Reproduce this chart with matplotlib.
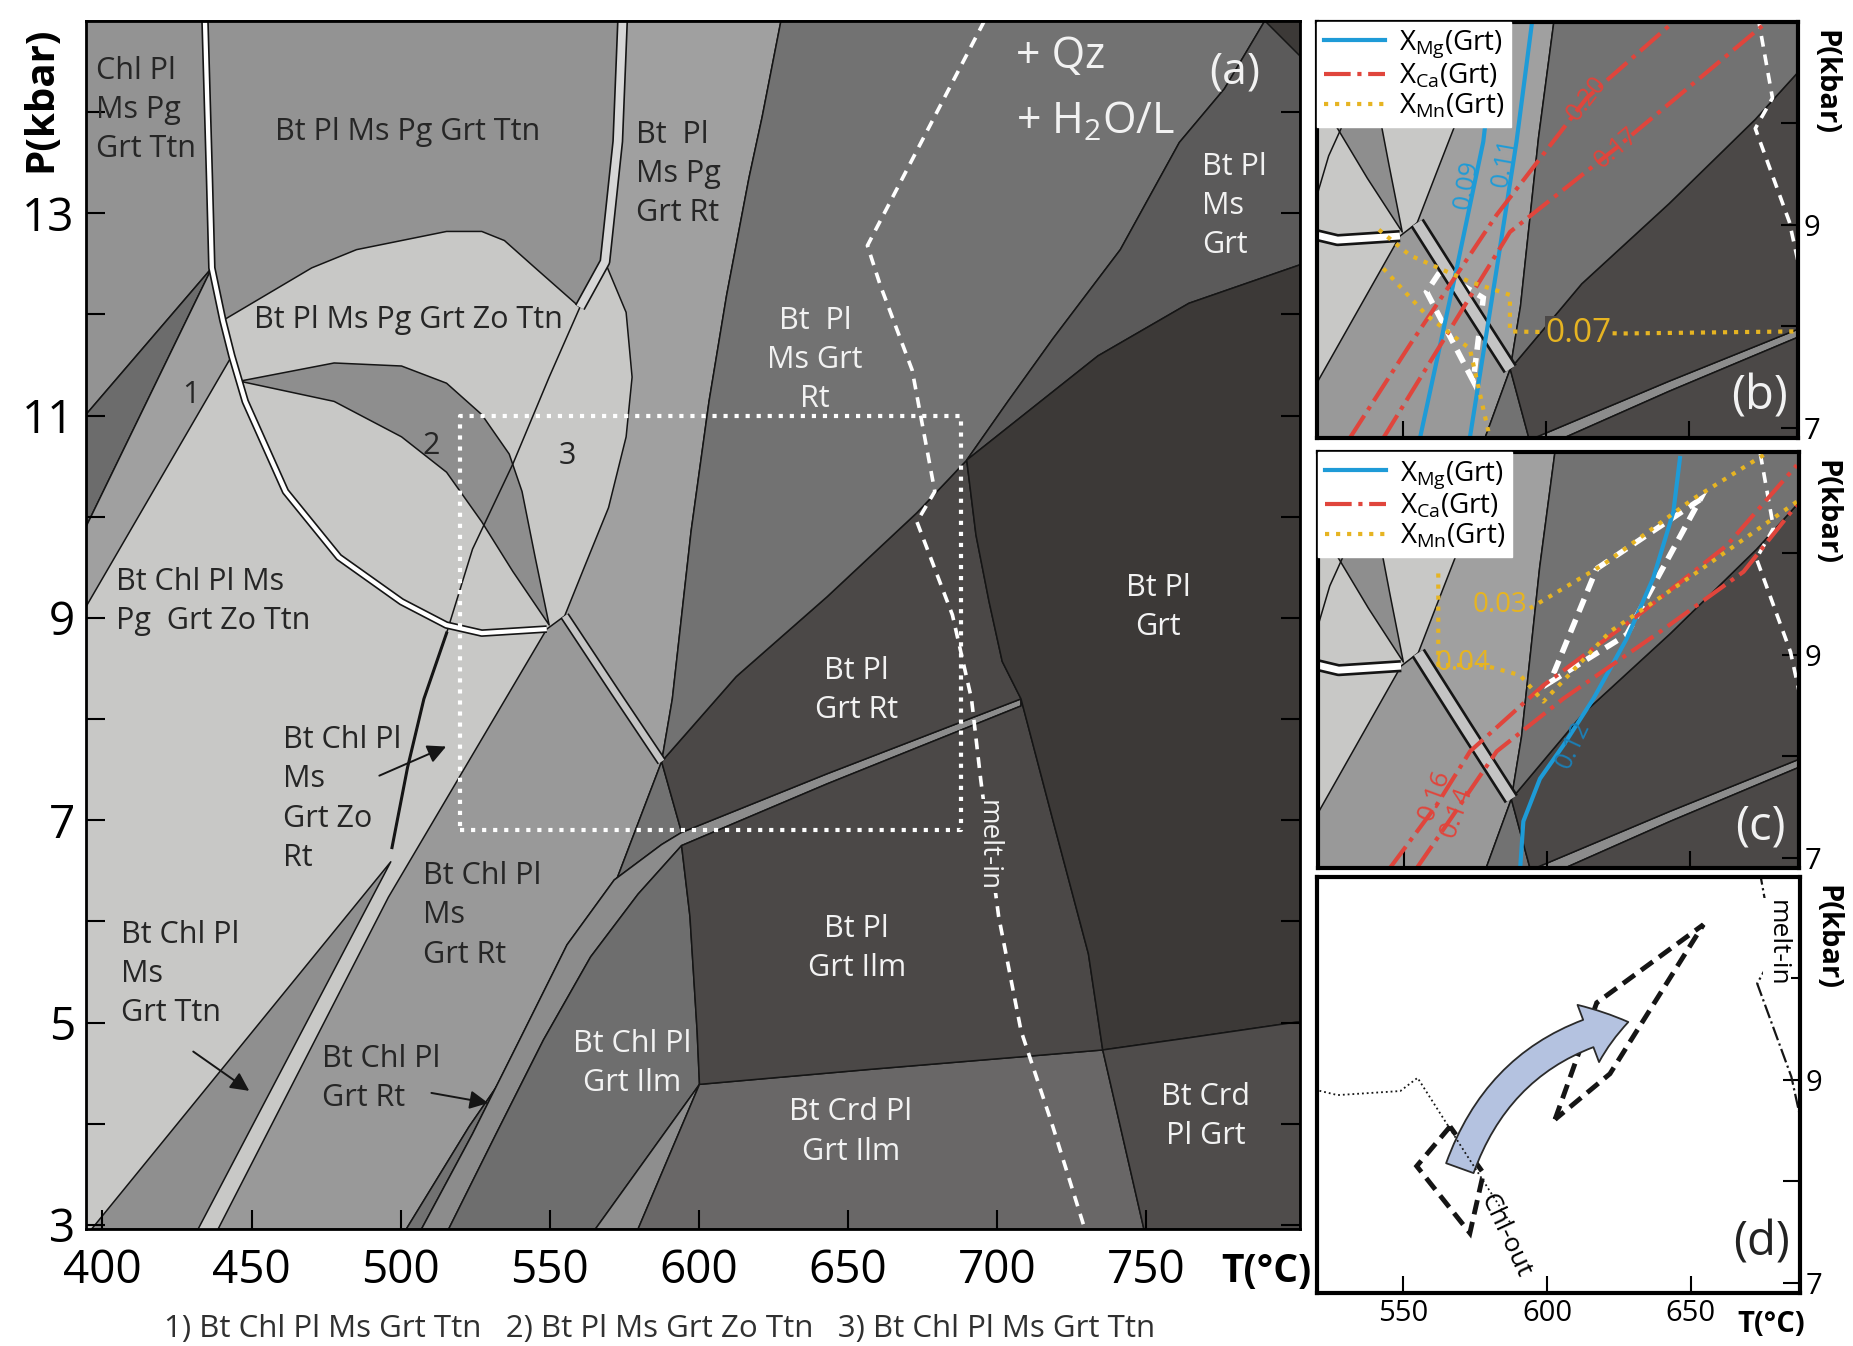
import matplotlib.pyplot as plt
from matplotlib.patches import Polygon, FancyArrowPatch
from matplotlib.lines import Line2D

plt.rcParams['font.family'] = ['Open Sans', 'DejaVu Sans']
plt.rcParams['mathtext.fontset'] = 'custom'
plt.rcParams['mathtext.rm'] = 'Open Sans'
plt.rcParams['mathtext.it'] = 'Open Sans:italic'
plt.rcParams['mathtext.bf'] = 'Open Sans:bold'

# P-T window of the section and of the enlarged window (b-d)
T_LIM = (394.5, 801.5)
P_LIM = (2.96, 14.9)
ZOOM_T = (520, 688)
ZOOM_P = (6.9, 11.0)

# field boundaries, (T degC, P kbar)
WHITE1 = [(434.4, 14.9), (435.9, 13.35), (436.7, 12.46), (440.4, 11.94), (443.4, 11.59),
          (447.9, 11.14), (461.4, 10.25), (479.3, 9.60), (500.3, 9.16), (515.3, 8.93),
          (527.2, 8.85), (549.0, 8.89)]
WHITE2 = [(574.4, 14.9), (572.8, 13.71), (568.5, 12.52), (560.1, 12.07)]
LENS_TOP = [(440.4, 11.94), (470.2, 12.46), (485.2, 12.64), (515.4, 12.82), (527.2, 12.82),
            (534.8, 12.73), (545.1, 12.46), (560.1, 12.07)]
F2_UPPER = [(446.0, 11.34), (477.7, 11.52), (500.3, 11.49), (515.4, 11.32), (527.2, 11.01),
            (536.4, 10.62), (540.7, 10.25), (545.1, 9.60), (549.8, 8.93)]
F2_LOWER = [(446.0, 11.34), (477.7, 11.14), (500.3, 10.79), (515.4, 10.44), (527.2, 9.95),
            (537.6, 9.46), (549.8, 8.93)]
REGION3_EDGE = [(568.5, 12.52), (575.6, 12.02), (577.6, 11.38), (575.6, 10.79), (569.7, 10.09),
                (561.7, 9.51), (555.0, 9.02)]
LINE_D = [(560.1, 12.07), (549.8, 11.38), (537.6, 10.52), (524.1, 9.68), (515.4, 8.85),
          (507.8, 8.20), (502.3, 7.52), (497.1, 6.73)]
CHL_OUT_BAND = [(555.0, 9.02), (571.6, 8.28), (587.5, 7.58)]
L1 = [(396.4, 2.96), (496.7, 6.59)]
L2 = [(432.1, 2.96), (496.7, 6.59)]
L34 = [(438.8, 2.96), (495.9, 6.24), (549.0, 8.89)]
R2 = [(627.5, 14.9), (621.2, 13.95), (616.8, 13.35), (609.3, 12.19), (603.4, 11.14),
      (597.4, 9.86), (591.1, 8.20), (587.5, 7.58)]
LINE_AA = [(587.5, 7.58), (567.7, 6.05), (545.1, 4.92), (522.9, 3.97), (501.9, 2.96)]
RT_TOP = [(507.0, 2.96), (524.1, 3.90), (539.9, 4.83), (555.8, 5.77), (571.6, 6.41),
          (587.5, 6.76), (594.2, 6.88), (643.0, 7.46), (708.0, 8.20)]
RT_BOT = [(516.1, 2.96), (532.0, 3.90), (547.9, 4.83), (563.7, 5.65), (579.6, 6.27),
          (594.2, 6.75), (643.0, 7.36), (708.0, 8.13)]
R6 = [(587.5, 7.58), (594.2, 6.82), (597.0, 6.05), (599.4, 4.92), (600.2, 4.39)]
CRD_TOP = [(600.2, 4.39), (658.1, 4.54), (711.2, 4.67), (735.4, 4.73), (764.3, 4.85), (801.5, 5.01)]
R5 = [(689.8, 10.56), (692.9, 9.82), (697.3, 9.16), (701.7, 8.57), (708.0, 8.20), (718.7, 7.00),
      (730.6, 5.68), (735.4, 4.73), (749.2, 2.96)]
J1_LINE = [(587.5, 7.58), (612.5, 8.42), (643.0, 9.21), (673.1, 10.04), (689.8, 10.56)]
R3 = [(689.8, 10.56), (703.6, 11.14), (718.7, 11.76), (741.3, 12.64), (761.1, 13.70),
      (776.2, 14.23), (789.7, 14.9)]
R4 = [(689.8, 10.56), (733.8, 11.59), (764.3, 12.11), (801.5, 12.49)]
MELT_IN = [(695.7, 14.9), (656.5, 12.68), (660.8, 12.29), (671.5, 11.45), (679.1, 10.25),
           (673.1, 9.95), (685.0, 9.03), (691.4, 8.20), (694.5, 7.40), (700.5, 6.05),
           (708.0, 4.92), (718.7, 3.97), (729.4, 2.96)]

# field polygons built from the boundaries, with their grey shades
LIGHT = '#c8c8c6'
FIELDS = [
    ([(394.5, 14.9)] + WHITE1[:3] + [(394.5, 11.01)], '#939393'),
    ([(394.5, 11.01), (436.7, 12.46), (394.5, 9.9)], '#6c6c6c'),
    ([(394.5, 9.9)] + WHITE1[2:5] + [(394.5, 9.11)], '#a0a0a0'),
    (WHITE2 + LENS_TOP[::-1] + WHITE1[2::-1], '#939393'),
    (F2_UPPER + F2_LOWER[::-1], '#8e8e8e'),
    (WHITE2[:3] + REGION3_EDGE[1:] + CHL_OUT_BAND[1:] + R2[::-1][1:], '#a0a0a0'),
    ([(549.0, 8.89)] + CHL_OUT_BAND + LINE_AA[1:] + [(438.8, 2.96), L34[1]], '#999999'),
    ([L1[0], L1[1], L2[0]], '#8f8f8f'),
    (LINE_AA + RT_TOP[:7], '#727272'),
    (RT_TOP + RT_BOT[::-1], '#8c8c8c'),
    (RT_BOT[:6] + R6[2:] + [(565.3, 2.96)], '#6e6e6e'),
    ([(600.2, 4.39), (565.3, 2.96), (579.6, 2.96)], '#8e8e8e'),
    (CRD_TOP[:4] + [(749.2, 2.96), (579.6, 2.96)], '#696767'),
    (RT_BOT[5:] + R5[4:8] + CRD_TOP[:4][::-1] + R6[2:4][::-1], '#4b4847'),
    (J1_LINE + R5[1:5] + RT_TOP[6:8][::-1], '#4b4847'),
    (R2 + J1_LINE[1:] + R3[1:], '#727272'),
    (R3 + [(801.5, 14.9)] + R4[::-1], '#5b5a5a'),
    (R4 + [(801.5, 5.01)] + CRD_TOP[3:5][::-1] + R5[:8][::-1], '#3c3937'),
    (CRD_TOP[3:] + [(801.5, 2.96), (749.2, 2.96)], '#4f4c4b'),
    ([(789.7, 14.9), (801.5, 14.9), (801.5, 14.55)], '#3c3937'),
]

# field names (text, T, P, colour, alignment)
DARK, WHITE = '#262626', '#f2f2f2'
LABELS = [
    ('Chl Pl\nMs Pg\nGrt Ttn', 398.0, 14.02, DARK, 'left'),
    ('Bt Pl Ms Pg Grt Ttn', 502.3, 13.8, DARK, 'center'),
    ('Bt  Pl\nMs Pg\nGrt Rt', 578.8, 13.39, DARK, 'left'),
    ('Bt Pl Ms Pg Grt Zo Ttn', 502.7, 11.94, DARK, 'center'),
    ('1', 429.7, 11.2, DARK, 'center'),
    ('2', 510.2, 10.7, DARK, 'center'),
    ('3', 555.8, 10.6, DARK, 'center'),
    ('Bt Chl Pl Ms\nPg  Grt Zo Ttn', 404.4, 9.16, DARK, 'left'),
    ('Bt Chl Pl\nMs\nGrt Zo\nRt', 460.6, 7.21, DARK, 'left'),
    ('Bt Chl Pl\nMs\nGrt Ttn', 406.3, 5.48, DARK, 'left'),
    ('Bt Chl Pl\nMs\nGrt Rt', 507.4, 6.06, DARK, 'left'),
    ('Bt Chl Pl\nGrt Rt', 473.7, 4.45, DARK, 'left'),
    ('Bt  Pl\nMs Grt\nRt', 639.0, 11.55, WHITE, 'center'),
    ('Bt Pl\nMs\nGrt', 768.7, 13.07, WHITE, 'left'),
    ('Bt Pl\nGrt', 754.0, 9.1, WHITE, 'center'),
    ('Bt Pl\nGrt Rt', 652.9, 8.28, WHITE, 'center'),
    ('Bt Pl\nGrt Ilm', 652.9, 5.73, WHITE, 'center'),
    ('Bt Chl Pl\nGrt Ilm', 577.6, 4.6, WHITE, 'center'),
    ('Bt Crd Pl\nGrt Ilm', 650.9, 3.92, WHITE, 'center'),
    ('Bt Crd\nPl Grt', 769.8, 4.07, WHITE, 'center'),
]
POINTERS = [((492.0, 7.43), (516.1, 7.74)), ((429.7, 4.73), (450.0, 4.31)),
            ((509.4, 4.31), (530.3, 4.20))]

# garnet isopleths, window (b)
MG_B = {'0.09': [(582.8, 10.97), (578.1, 9.82), (568.8, 8.57), (556.0, 6.90)],
        '0.11': [(595.0, 10.97), (589.7, 9.82), (582.8, 8.57), (573.4, 6.90)]}
CA_B = {'0.20': [(531.5, 6.90), (552.5, 7.82), (582.8, 9.10), (614.2, 10.25), (643.3, 10.97)],
        '0.17': [(543.2, 6.90), (587.4, 8.93), (624.6, 9.76), (675.9, 10.97)]}
MN_B = {'0.07': [(686.4, 7.95), (627.0, 7.93), (587.4, 7.95), (587.4, 8.31), (573.4, 8.44),
                 (552.5, 8.70), (540.9, 8.97)],
        '': [(543.2, 8.57), (558.3, 8.11), (573.4, 7.78), (580.4, 6.90)]}
PT_B = [(563.0, 8.54), (578.1, 8.28), (574.6, 7.46), (558.3, 8.34)]

# garnet isopleths, window (c)
MG_C = {'0.12': [(590.6, 6.90), (591.7, 7.36), (597.5, 7.78), (605.7, 8.11), (616.2, 8.57),
                 (627.8, 9.16), (637.1, 9.76), (644.1, 10.41), (646.4, 10.94)]}
CA_C = {'0.16': [(545.1, 6.90), (561.4, 7.52), (573.1, 8.05), (598.7, 8.70), (633.6, 9.43),
                 (662.8, 10.08), (687.2, 10.87)],
        '0.14': [(554.5, 6.90), (569.6, 7.52), (582.4, 8.05), (605.7, 8.57), (639.5, 9.23),
                 (668.6, 9.82), (687.2, 10.48)]}
MN_C = {'0.03': [(675.6, 10.97), (651.1, 10.54), (619.6, 9.89), (594.0, 9.46)],
        '0.04': [(687.2, 10.51), (651.1, 9.79), (622.0, 9.23), (598.7, 8.54), (590.6, 8.80),
                 (577.7, 8.90), (562.0, 8.90), (562.0, 9.82)]}
PT_C = [(617.3, 9.85), (653.4, 10.53), (627.8, 9.20), (601.0, 8.73)]

# P-T path, window (d)
BOX_EARLY = [(566.3, 8.54), (554.7, 8.15), (573.2, 7.49), (577.9, 8.08)]
BOX_PEAK = [(602.8, 8.61), (617.3, 9.76), (654.4, 10.53), (621.9, 9.06)]
PATH_T = [569.7, 628.3]
PATH_P = [8.13, 9.57]

C_MG, C_CA, C_MN = '#1e9bd7', '#e0453c', '#e6b422'
EDGE = '#151515'


def xy(pts):
    return [p[0] for p in pts], [p[1] for p in pts]


def draw_section(a, s=1.0):
    a.set_facecolor(LIGHT)
    for pts, col in FIELDS:
        a.add_patch(Polygon(pts, closed=True, fc=col, ec=EDGE, lw=1.1, joinstyle='round'))
    a.plot(*xy(LINE_D), color=EDGE, lw=1.1)
    a.plot(*xy(LINE_D[4:]), color=EDGE, lw=2.2)
    for pts, inner, w in ((WHITE1, 'white', 5.5), (WHITE2, '#d6d6d6', 8.0),
                          (CHL_OUT_BAND, '#c4c4c4', 7.0)):
        a.plot(*xy(pts), color=EDGE, lw=w * s, solid_capstyle='butt', solid_joinstyle='round')
        a.plot(*xy(pts), color=inner, lw=(w - 2.4) * s, solid_capstyle='butt',
               solid_joinstyle='round')
    a.plot(*xy(MELT_IN), color='white', lw=2.6, ls=(0, (3, 2.2)))


def window_axes(a, labels_x=False):
    a.set_xlim(*ZOOM_T)
    a.set_ylim(*ZOOM_P)
    a.yaxis.tick_right()
    a.set_yticks([7, 9])
    a.set_yticks([8, 10], minor=True)
    a.set_xticks([550, 600, 650])
    a.tick_params(which='both', direction='in', length=12, width=1.5, labelsize=21,
                  top=False, left=False, right=True, labelbottom=labels_x, pad=4)
    for sp in a.spines.values():
        sp.set_linewidth(3)
    a.text(1.055, 0.98, 'P(kbar)', transform=a.transAxes, rotation=-90, ha='center',
           va='top', fontsize=21, fontweight='bold')


fig = plt.figure(figsize=(18.53, 13.46), dpi=100)
ax = fig.add_axes([0.0464, 0.0869, 0.6551, 0.8975])
axb = fig.add_axes([0.7107, 0.6746, 0.2596, 0.3091])
axc = fig.add_axes([0.7113, 0.3551, 0.2596, 0.3091])
axd = fig.add_axes([0.7107, 0.0394, 0.2607, 0.3091])

# (a) full section
draw_section(ax)
t0, t1 = ZOOM_T
p0, p1 = ZOOM_P
ax.plot([t0, t1, t1, t0, t0], [p0, p0, p1, p1, p0], color='white', lw=3, ls=':')
for txt, t, p, col, ha in LABELS:
    ax.text(t, p, txt, color=col, ha=ha, va='center', fontsize=22, linespacing=1.4)
for (ta, pa), (tb, pb) in POINTERS:
    ax.annotate('', xy=(tb, pb), xytext=(ta, pa),
                arrowprops=dict(arrowstyle='-|>', color=EDGE, lw=1.4, mutation_scale=28))
ax.text(696.8, 6.75, 'melt-in', rotation=-90, color=WHITE, ha='center', va='center',
        fontsize=20, bbox=dict(fc='#4b4847', ec='none', pad=1))
ax.text(706.4, 14.55, '+ Qz', color=WHITE, fontsize=31, va='center')
ax.text(706.4, 13.9, '+ H$_2$O/L', color=WHITE, fontsize=31, va='center')
ax.text(779.7, 14.39, '(a)', color=WHITE, fontsize=32, ha='center', va='center')

ax.set_xlim(*T_LIM)
ax.set_ylim(*P_LIM)
ax.set_xticks(range(400, 751, 50))
ax.set_yticks([3, 5, 7, 9, 11, 13])
ax.set_yticks([4, 6, 8, 10, 12, 14], minor=True)
ax.tick_params(which='both', direction='in', length=14, width=1.5, right=True, labelsize=33)
ax.tick_params(axis='y', pad=8)
ax.tick_params(axis='x', pad=14)
top = ax.secondary_xaxis('top')
top.set_xticks(range(422, 800, 28))
top.tick_params(direction='in', length=16, width=1.8, labeltop=False)
for sp in list(ax.spines.values()) + [top.spines['top']]:
    sp.set_linewidth(2)
ax.text(-0.037, 0.935, 'P(kbar)', transform=ax.transAxes, rotation=90, ha='center',
        va='center', fontsize=29, fontweight='bold')
ax.text(0.972, -0.035, 'T(°C)', transform=ax.transAxes, ha='center', va='center',
        fontsize=28, fontweight='bold')

# (b) and (c) enlarged windows with isopleths
legend_handles = [Line2D([], [], color=C_MG, lw=3),
                  Line2D([], [], color=C_CA, lw=3, ls='-.'),
                  Line2D([], [], color=C_MN, lw=3, ls=':')]
legend_labels = [r'X$_{\mathrm{Mg}}$(Grt)', r'X$_{\mathrm{Ca}}$(Grt)', r'X$_{\mathrm{Mn}}$(Grt)']

for a, mg, ca, mn, pt, tag in ((axb, MG_B, CA_B, MN_B, PT_B, '(b)'),
                               (axc, MG_C, CA_C, MN_C, PT_C, '(c)')):
    draw_section(a, s=1.6)
    for pts in mg.values():
        a.plot(*xy(pts), color=C_MG, lw=3)
    for pts in ca.values():
        a.plot(*xy(pts), color=C_CA, lw=3, ls='-.')
    for pts in mn.values():
        a.plot(*xy(pts), color=C_MN, lw=3, ls=':')
    a.add_patch(Polygon(pt, closed=True, fill=False, ec='white', lw=4, ls=(0, (2.5, 1.5))))
    leg = a.legend(legend_handles, legend_labels, loc='upper left', bbox_to_anchor=(0, 1),
                   borderaxespad=0, fontsize=20, handlelength=2.2, labelspacing=0.05,
                   fancybox=False, framealpha=1, facecolor='white', edgecolor='white',
                   borderpad=0.25, handletextpad=0.5)
    leg.set_zorder(5)
    a.text(0.92, 0.1, tag, transform=a.transAxes, color=WHITE, fontsize=34,
           ha='center', va='center')
    window_axes(a)

axb.text(572.3, 9.40, '0.09', color=C_MG, rotation=80, fontsize=18, ha='center', va='center')
axb.text(585.7, 9.62, '0.11', color=C_MG, rotation=80, fontsize=18, ha='center', va='center')
axb.text(614.2, 10.25, '0.20', color=C_CA, rotation=52, fontsize=18, ha='center', va='center')
axb.text(624.6, 9.76, '0.17', color=C_CA, rotation=40, fontsize=18, ha='center', va='center')
axb.text(611.3, 7.93, '0.07', color=C_MN, fontsize=24, ha='center', va='center',
         bbox=dict(fc='#4b4847', ec='none', pad=0.5))
axc.text(609.2, 8.11, '0.12', color='#1b7fb6', rotation=65, fontsize=18, ha='center', va='center')
axc.text(560.8, 7.62, '0.16', color=C_CA, rotation=70, fontsize=19, ha='center', va='center')
axc.text(568.4, 7.45, '0.14', color=C_CA, rotation=70, fontsize=19, ha='center', va='center')
axc.text(583.5, 9.49, '0.03', color=C_MN, fontsize=20, ha='center', va='center')
axc.text(570.8, 8.92, '0.04', color=C_MN, fontsize=20, ha='center', va='center')

# (d) P-T path
axd.set_facecolor('white')
axd.plot(*xy(WHITE1 + CHL_OUT_BAND), color=EDGE, lw=1.3, ls=':')
axd.plot(*xy(MELT_IN), color=EDGE, lw=1.6, ls='-.')
axd.text(680.0, 10.35, 'melt-in', rotation=-90, fontsize=19, ha='center', va='center',
         bbox=dict(fc='white', ec='none', pad=1))
axd.text(585.3, 7.46, 'Chl-out', rotation=-65, fontsize=19, ha='center', va='center')
for box in (BOX_EARLY, BOX_PEAK):
    axd.add_patch(Polygon(box, closed=True, fill=False, ec=EDGE, lw=3.5, ls=(0, (3, 1.6))))
path = FancyArrowPatch((PATH_T[0], PATH_P[0]), (PATH_T[1], PATH_P[1]),
                       connectionstyle='arc3,rad=-0.28',
                       arrowstyle='simple,head_length=30,head_width=44,tail_width=21',
                       fc='#b4c2e0', ec='#2a2a2a', lw=1.3, shrinkA=0, shrinkB=0)
axd.add_patch(path)
axd.text(0.92, 0.12, '(d)', transform=axd.transAxes, color='#222222', fontsize=34,
         ha='center', va='center')
window_axes(axd, labels_x=True)
axd.text(0.94, -0.075, 'T(°C)', transform=axd.transAxes, ha='center', va='center',
         fontsize=21, fontweight='bold')

fig.text(0.356, 0.013, '1) Bt Chl Pl Ms Grt Ttn   2) Bt Pl Ms Grt Zo Ttn   3) Bt Chl Pl Ms Grt Ttn',
         ha='center', va='center', fontsize=22.5, color='#303030')

fig.savefig('out.png', dpi=100)
